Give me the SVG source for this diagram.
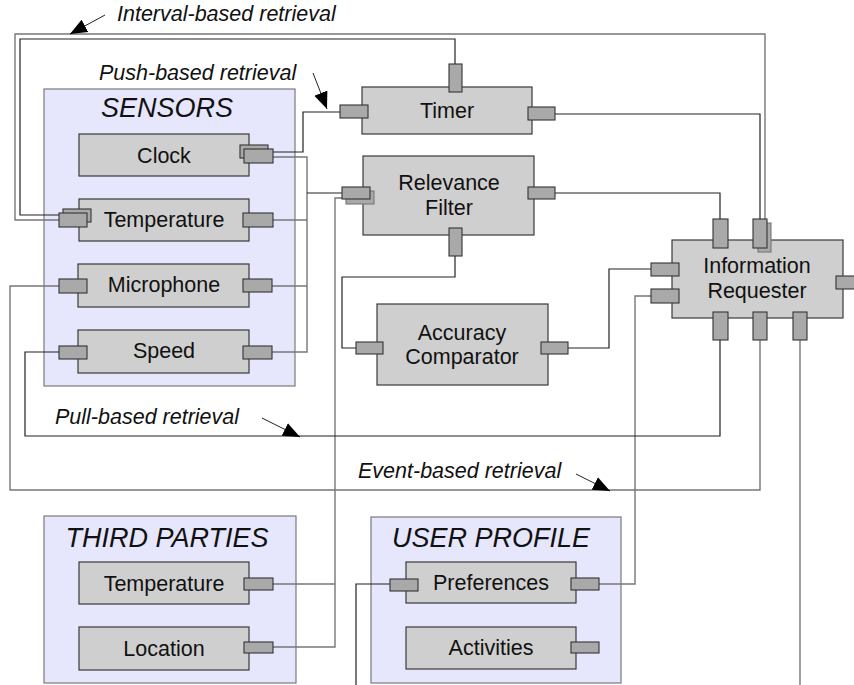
<svg xmlns="http://www.w3.org/2000/svg" width="854" height="685" viewBox="0 0 854 685">
  <style>
    .grp { fill: #e6e6fd; stroke: #7a7a7a; stroke-width: 1.2; }
    .node { fill: #cfcfcf; stroke: #3a3a3a; stroke-width: 1.2; }
    .port { fill: #a9a9a9; stroke: #333; stroke-width: 1.1; }
    .port-back { fill: #a9a9a9; stroke: #777; stroke-width: 1.1; }
    .lbl { font-family: "Liberation Sans", Arial, sans-serif; font-size: 21.5px; fill: #111; text-anchor: middle; }
    .title { font-family: "Liberation Sans", Arial, sans-serif; font-size: 27px; font-style: italic; fill: #111; text-anchor: middle; }
    .note { font-family: "Liberation Sans", Arial, sans-serif; font-size: 21.5px; font-style: italic; fill: #111; }
    .dk { fill: none; stroke: #222; stroke-width: 1.2; }
    .gr { fill: none; stroke: #777; stroke-width: 1.4; }
    .ptr { fill: none; stroke: #222; stroke-width: 1; marker-end: url(#head); }
  </style>
  <defs>
    <marker id="head" markerUnits="userSpaceOnUse" markerWidth="18" markerHeight="16" refX="17" refY="8" orient="auto">
      <path d="M0,1 L17,8 L0,15 z" fill="#000"/>
    </marker>
  </defs>

  <rect width="854" height="685" fill="#fff"/>

  <!-- containers -->
  <g id="sensors">
    <rect class="grp" x="44" y="89" width="251" height="297"/>
    <text class="title" x="167" y="117">SENSORS</text>
  </g>
  <g id="third-parties">
    <rect class="grp" x="44" y="516" width="252" height="167"/>
    <text class="title" x="167" y="547">THIRD PARTIES</text>
  </g>
  <g id="user-profile">
    <rect class="grp" x="371" y="517" width="250" height="166"/>
    <text class="title" x="491" y="547">USER PROFILE</text>
  </g>

  <!-- connectors -->
  <g id="connectors">
    <!-- interval loop: timer top port to sensor temperature -->
    <path class="dk" d="M455,64 V39 H20 V215 H63"/>
    <!-- interval loop: information requester to sensor temperature -->
    <path class="gr" d="M765,219 V34 H15 V220 H59"/>
    <!-- timer out to information requester -->
    <path class="dk" d="M555,114 H760 V219"/>
    <!-- relevance filter out to information requester -->
    <path class="dk" d="M555,193 H720 V219"/>
    <!-- clock to timer -->
    <path class="dk" d="M268,152 H303 V112 H340"/>
    <!-- sensor bus into relevance filter -->
    <path class="gr" d="M273,157 H307 V352 H272"/>
    <path class="gr" d="M273,220 H307"/>
    <path class="gr" d="M272,286 H307"/>
    <path class="dk" d="M307,193 H342"/>
    <!-- third parties into relevance filter -->
    <path class="gr" d="M346,198 H335 V647 H273"/>
    <path class="gr" d="M273,584 H335"/>
    <!-- relevance filter to accuracy comparator -->
    <path class="dk" d="M455,256 V277 H342 V348 H356"/>
    <!-- accuracy comparator to information requester -->
    <path class="dk" d="M568,348 H609 V269 H651"/>
    <!-- preferences to information requester -->
    <path class="gr" d="M599,584 H635 V296 H651"/>
    <!-- pull-based loop -->
    <path class="dk" d="M720,340 V436 H25 V352 H59"/>
    <!-- event-based loop -->
    <path class="gr" d="M760,340 V490 H10 V286 H59"/>
    <!-- outgoing lines -->
    <path class="gr" d="M800,340 V685"/>
    <path class="dk" d="M390,584 H356 V685"/>

    <!-- annotation pointers -->
    <path class="ptr" d="M105,15 L70,34"/>
    <path class="ptr" d="M313,73 L327,109"/>
    <path class="ptr" d="M262,418 L300,437"/>
    <path class="ptr" d="M576,474 L610,491"/>
  </g>

  <!-- sensor nodes -->
  <g id="clock">
    <rect class="node" x="79" y="134" width="170" height="42"/>
    <text class="lbl" x="164" y="163">Clock</text>
    <rect class="port" x="240" y="145" width="28" height="13"/>
    <rect class="port" x="244" y="149" width="29" height="14"/>
  </g>
  <g id="sensor-temperature">
    <rect class="node" x="79" y="199" width="170" height="42"/>
    <text class="lbl" x="164" y="227">Temperature</text>
    <rect class="port" x="63" y="209" width="28" height="13"/>
    <rect class="port" x="59" y="213" width="28" height="14"/>
    <rect class="port" x="243" y="213" width="30" height="14"/>
  </g>
  <g id="microphone">
    <rect class="node" x="78" y="264" width="171" height="43"/>
    <text class="lbl" x="164" y="292">Microphone</text>
    <rect class="port" x="59" y="279" width="28" height="14"/>
    <rect class="port" x="243" y="279" width="29" height="13"/>
  </g>
  <g id="speed">
    <rect class="node" x="78" y="330" width="171" height="43"/>
    <text class="lbl" x="164" y="358">Speed</text>
    <rect class="port" x="59" y="346" width="28" height="13"/>
    <rect class="port" x="243" y="346" width="29" height="13"/>
  </g>

  <!-- processing nodes -->
  <g id="timer">
    <rect class="node" x="362" y="87" width="170" height="47"/>
    <text class="lbl" x="447" y="118">Timer</text>
    <rect class="port" x="449" y="64" width="13" height="28"/>
    <rect class="port" x="340" y="105" width="28" height="13"/>
    <rect class="port" x="528" y="107" width="27" height="13"/>
  </g>
  <g id="relevance-filter">
    <rect class="node" x="363" y="156" width="171" height="79"/>
    <text class="lbl" x="449" y="190">Relevance</text>
    <text class="lbl" x="449" y="215">Filter</text>
    <rect class="port-back" x="346" y="191" width="28" height="13"/>
    <rect class="port" x="342" y="187" width="28" height="12"/>
    <rect class="port" x="528" y="187" width="27" height="12"/>
    <rect class="port" x="449" y="228" width="13" height="28"/>
  </g>
  <g id="accuracy-comparator">
    <rect class="node" x="377" y="304" width="171" height="81"/>
    <text class="lbl" x="462" y="340">Accuracy</text>
    <text class="lbl" x="462" y="364">Comparator</text>
    <rect class="port" x="356" y="342" width="27" height="12"/>
    <rect class="port" x="541" y="342" width="27" height="12"/>
  </g>
  <g id="information-requester">
    <rect class="node" x="672" y="240" width="171" height="78"/>
    <text class="lbl" x="757" y="273">Information</text>
    <text class="lbl" x="757" y="298">Requester</text>
    <rect class="port" x="713" y="219" width="15" height="29"/>
    <rect class="port-back" x="758" y="223" width="13" height="29"/>
    <rect class="port" x="753" y="219" width="14" height="29"/>
    <rect class="port" x="651" y="263" width="28" height="13"/>
    <rect class="port" x="651" y="289" width="28" height="14"/>
    <rect class="port" x="836" y="276" width="28" height="13"/>
    <rect class="port" x="713" y="312" width="15" height="28"/>
    <rect class="port" x="753" y="312" width="14" height="28"/>
    <rect class="port" x="793" y="312" width="14" height="28"/>
  </g>

  <!-- third party nodes -->
  <g id="tp-temperature">
    <rect class="node" x="79" y="562" width="170" height="42"/>
    <text class="lbl" x="164" y="591">Temperature</text>
    <rect class="port" x="244" y="578" width="29" height="12"/>
  </g>
  <g id="tp-location">
    <rect class="node" x="79" y="627" width="170" height="43"/>
    <text class="lbl" x="164" y="656">Location</text>
    <rect class="port" x="244" y="642" width="29" height="11"/>
  </g>

  <!-- user profile nodes -->
  <g id="preferences">
    <rect class="node" x="406" y="562" width="170" height="41"/>
    <text class="lbl" x="491" y="590">Preferences</text>
    <rect class="port" x="390" y="579" width="28" height="12"/>
    <rect class="port" x="571" y="578" width="28" height="12"/>
  </g>
  <g id="activities">
    <rect class="node" x="406" y="627" width="170" height="42"/>
    <text class="lbl" x="491" y="655">Activities</text>
    <rect class="port" x="571" y="642" width="28" height="11"/>
  </g>

  <!-- annotations -->
  <g id="annotations">
    <text class="note" x="117" y="21">Interval-based retrieval</text>
    <text class="note" x="99" y="80">Push-based retrieval</text>
    <text class="note" x="55" y="424">Pull-based retrieval</text>
    <text class="note" x="358" y="478">Event-based retrieval</text>
  </g>
</svg>
